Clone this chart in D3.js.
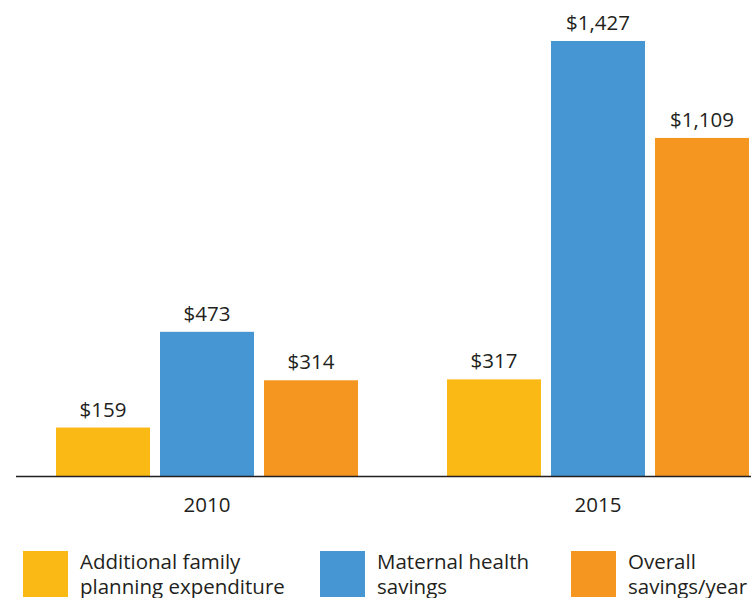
<!DOCTYPE html>
<html>
<head>
<meta charset="utf-8">
<script src="https://cdn.jsdelivr.net/npm/d3@7"></script>
<style>
  body { margin: 0; background: #fff; }
  svg { display: block; font-family: "Open Sans", sans-serif; }
</style>
</head>
<body>
<svg id="chart" width="751" height="598"></svg>
<script>
const years = ["2010", "2015"]
const series = ["Additional family planning expenditure", "Maternal health savings", "Overall savings/year"]
const legendLines = [
  ["Additional family", "planning expenditure"],
  ["Maternal health", "savings"],
  ["Overall", "savings/year"]
]
const values2010 = [159, 473, 314]
const values2015 = [317, 1427, 1109]
const colors = ["#fbb915", "#4596d2", "#f59620"]

const data = years.map((y, i) => ({
  year: y,
  values: [values2010, values2015][i]
}))

const svg = d3.select("#chart")
const textColor = "#231f20"
const baseline = 476
const fontSize = 20.5

const x0 = d3.scaleBand()
  .domain(years)
  .range([56, 749])
  .paddingInner(0.2276)

const x1 = d3.scaleBand()
  .domain(series)
  .range([0, x0.bandwidth()])
  .paddingInner(0.096)

const y = d3.scaleLinear()
  .domain([0, d3.max([...values2010, ...values2015])])
  .range([baseline, 41])

const color = d3.scaleOrdinal().domain(series).range(colors)
const fmt = d3.format("$,")

const groups = svg.selectAll("g.year")
  .data(data)
  .join("g")
  .attr("class", "year")
  .attr("transform", d => `translate(${x0(d.year)},0)`)

groups.selectAll("rect")
  .data(d => d.values.map((v, i) => ({ key: series[i], value: v })))
  .join("rect")
  .attr("x", d => x1(d.key))
  .attr("y", d => y(d.value))
  .attr("width", x1.bandwidth())
  .attr("height", d => baseline - y(d.value))
  .attr("fill", d => color(d.key))

groups.selectAll("text.val")
  .data(d => d.values.map((v, i) => ({ key: series[i], value: v })))
  .join("text")
  .attr("class", "val")
  .attr("x", d => x1(d.key) + x1.bandwidth() / 2)
  .attr("y", d => y(d.value) - 11)
  .attr("text-anchor", "middle")
  .attr("font-size", fontSize)
  .attr("fill", textColor)
  .text(d => fmt(d.value))

// axis
const axis = svg.append("g")
  .attr("transform", `translate(0,${baseline})`)
  .call(d3.axisBottom(x0).tickSize(0).tickPadding(21))
axis.select(".domain")
  .attr("d", "M16,0.5H751")
  .attr("stroke", textColor)
  .attr("stroke-width", 1.5)
axis.selectAll(".tick text")
  .attr("font-size", fontSize)
  .attr("font-family", "Open Sans, sans-serif")
  .attr("fill", textColor)

// legend
const legendX = [23, 320, 571]
const legend = svg.selectAll("g.legend")
  .data(series)
  .join("g")
  .attr("class", "legend")
  .attr("transform", (d, i) => `translate(${legendX[i]},551)`)

legend.append("rect")
  .attr("width", 45)
  .attr("height", 46)
  .attr("fill", d => color(d))

legend.append("text")
  .attr("x", 57)
  .attr("font-size", fontSize)
  .attr("fill", textColor)
  .selectAll("tspan")
  .data((d, i) => legendLines[i])
  .join("tspan")
  .attr("x", 57)
  .attr("y", (d, i) => 18 + i * 25)
  .text(d => d)
</script>
</body>
</html>
